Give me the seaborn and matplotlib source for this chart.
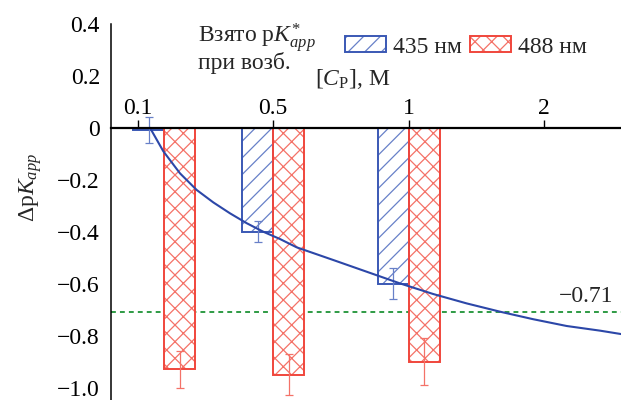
import numpy as np
import matplotlib
matplotlib.use("Agg")
import matplotlib.pyplot as plt
import seaborn as sns
from matplotlib.legend_handler import HandlerTuple

# concentration axis is drawn with evenly spaced ticks
tick_pos = [0, 1, 2, 3]
tick_labels = ["0.1", "0.5", "1", "2"]

group_pos = [0.195, 1.0, 2.0]
vals_435 = [-0.01, -0.40, -0.60]
err_435 = [0.05, 0.04, 0.06]
vals_488 = [-0.93, -0.95, -0.90]
err_488 = [0.07, 0.08, 0.09]

# fitted curve
curve_x = [0.091, 0.189, 0.312, 0.435, 0.558, 0.681, 0.804, 0.927, 1.050, 1.173,
           1.444, 1.690, 1.936, 2.182, 2.428, 2.675, 2.920, 3.166, 3.413, 3.567]
curve_y = [0.0, -0.09, -0.175, -0.239, -0.287, -0.329, -0.367, -0.400, -0.428, -0.460,
           -0.509, -0.554, -0.599, -0.640, -0.676, -0.708, -0.737, -0.763, -0.781, -0.794]

limit_val = -0.71

yticks = [0.4, 0.2, 0, -0.2, -0.4, -0.6, -0.8, -1.0]
ytick_labels = ["0.4", "0.2", "0", "\u22120.2", "\u22120.4", "\u22120.6", "\u22120.8", "\u22121.0"]

sns.set_theme(style="white")
plt.rcParams["font.family"] = ["Liberation Serif", "DejaVu Serif"]
plt.rcParams["mathtext.fontset"] = "custom"
plt.rcParams["mathtext.rm"] = "Liberation Serif"
plt.rcParams["mathtext.it"] = "Liberation Serif:italic"
plt.rcParams["hatch.linewidth"] = 0.9

fs = 17
blue = "#3a58b4"
blue_l = "#6880c8"
red = "#f0463c"
red_l = "#f47268"

fig = plt.figure(figsize=(6.21, 4.0), dpi=100)
ax = fig.add_axes([111 / 621, 0, 510 / 621, 376 / 400])

w = 0.23
x435 = [g - w / 2 for g in group_pos]
x488 = [g + w / 2 for g in group_pos]

h1 = ax.bar(x435, vals_435, width=w, facecolor="white", edgecolor=blue_l, hatch="//", linewidth=0, zorder=2)
o1 = ax.bar(x435, vals_435, width=w, fill=False, edgecolor=blue, linewidth=1.4, zorder=3)
h2 = ax.bar(x488, vals_488, width=w, facecolor="white", edgecolor=red_l, hatch="xx", linewidth=0, zorder=2)
o2 = ax.bar(x488, vals_488, width=w, fill=False, edgecolor=red, linewidth=1.4, zorder=3)

ax.errorbar(x435, vals_435, yerr=err_435, fmt="none", ecolor=blue_l, elinewidth=0.9, capsize=3, capthick=0.9, zorder=4)
ax.errorbar(x488, vals_488, yerr=err_488, fmt="none", ecolor=red_l, elinewidth=0.9, capsize=3, capthick=0.9, zorder=4)

sns.lineplot(x=curve_x, y=curve_y, color="#2c47a8", linewidth=1.5, ax=ax, zorder=5)
ax.axhline(limit_val, color="#2e9b44", linewidth=1.4, dashes=(2.5, 2.1), zorder=1)
ax.text(3.51, limit_val + 0.04, "\u22120.71", fontsize=fs, ha="right", va="baseline")

ax.set_xlim(-0.197, 3.567)
ax.set_ylim(-1.048, 0.4)

ax.spines["right"].set_visible(False)
ax.spines["bottom"].set_visible(False)
ax.spines["left"].set_linewidth(1.1)
ax.spines["left"].set_color("black")
ax.spines["top"].set_position(("data", 0))
ax.spines["top"].set_linewidth(1.6)
ax.spines["top"].set_color("black")
ax.spines["top"].set_zorder(6)

ax.xaxis.tick_top()
ax.set_xticks(tick_pos)
ax.set_xticklabels(tick_labels)
ax.tick_params(axis="x", direction="out", length=6, width=1, pad=0.5, labelsize=fs, colors="black")
ax.set_yticks(yticks)
ax.set_yticklabels(ytick_labels)
ax.tick_params(axis="y", direction="in", length=6, width=1, pad=8, labelsize=fs, colors="black")

fig.text(31 / 621, 1 - 187 / 400, r"$\Delta$p$K_{app}$", rotation=90, ha="center", va="center", fontsize=fs)
fig.text(315 / 621, 1 - 85 / 400, r"[$C_{\mathrm{P}}$], M", ha="left", va="baseline", fontsize=fs)
# two-line legend caption, va="baseline" anchors the last line
fig.text(198 / 621, 1 - 69 / 400, "Взято p$K^{*}_{app}$\nпри возб.", ha="left", va="baseline",
         fontsize=fs, linespacing=0.8)

ax.legend([(h1[0], o1[0]), (h2[0], o2[0])], ["435 нм", "488 нм"],
          handler_map={tuple: HandlerTuple(ndivide=1, pad=0)},
          ncol=2, frameon=False, fontsize=fs, loc="center left",
          bbox_to_anchor=(345 / 621, 1 - 47 / 400), bbox_transform=fig.transFigure,
          borderpad=0, borderaxespad=0, handlelength=1.75, handleheight=0.65,
          handletextpad=0.27, columnspacing=0.35)

fig.savefig("out.png", dpi=100)
plt.close(fig)
